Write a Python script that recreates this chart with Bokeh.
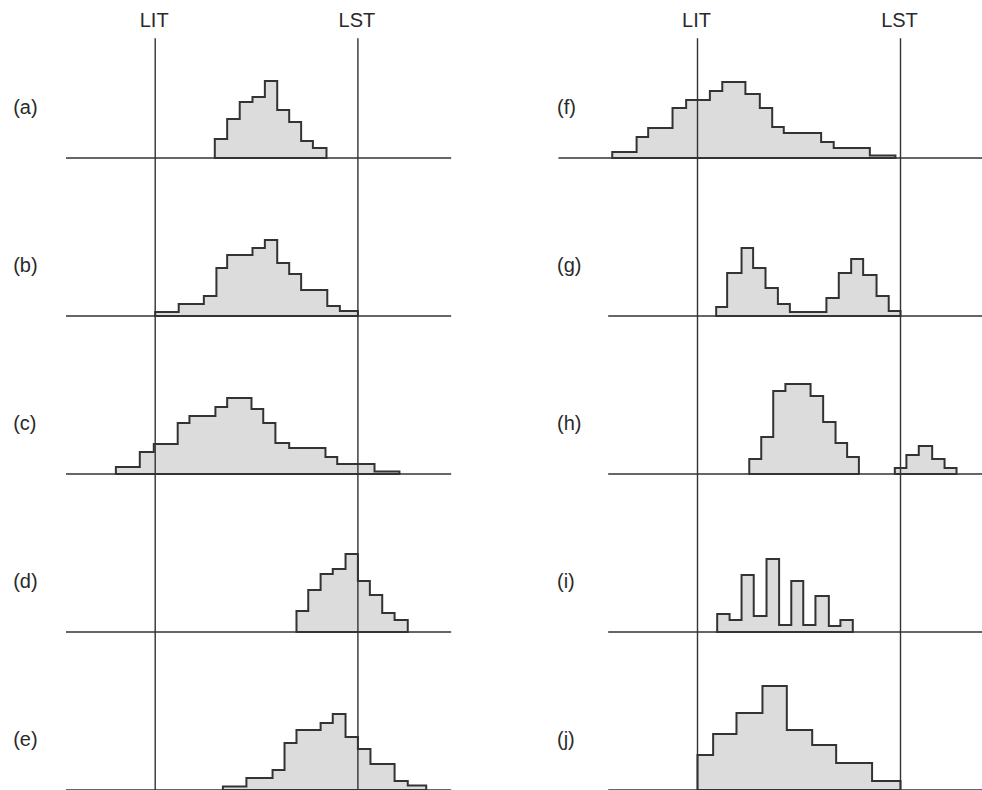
from bokeh.plotting import figure
from bokeh.models import Range1d
from bokeh.embed import file_html
from bokeh.resources import INLINE
from bokeh.core.properties import value

# ---------------- data (time axis: LIT = 0, LST = 100) ----------------
LIT, LST = 0, 100
marker_labels = ["LIT", "LST"]

edges_a = [29.4, 35.5, 41.7, 48.0, 54.1, 60.2, 66.1, 72.0, 77.8, 84.5]
heights_a = [19, 39, 56, 61, 77, 48, 36, 17, 10]

edges_b = [0, 11.6, 24.0, 30.2, 35.5, 48.0, 54.1, 60.2, 66.1, 72.0, 84.9, 91.1, 100]
heights_b = [4, 12, 20, 48, 61, 68, 76, 53, 42, 26, 10, 5]

edges_c = [-19.4, -7.6, -0.7, 11.1, 16.9, 29.7, 35.5, 47.5, 53.3, 59.3, 66.1, 84.0, 89.8, 108.2, 120.5]
heights_c = [7, 22, 30, 51, 58, 67, 76, 65, 51, 31, 26, 17, 10, 2.5]

edges_d = [69.7, 75.5, 81.6, 87.6, 93.9, 100, 105.9, 112.0, 118.1, 124.6]
heights_d = [21, 42, 58, 63, 78, 51, 37, 19, 12]

edges_e = [33.4, 45.0, 57.9, 63.8, 69.7, 81.6, 87.6, 93.9, 100, 106.2, 118.1, 124.6, 133.7]
heights_e = [3.5, 12, 20, 47, 60, 67, 76, 53, 41, 26, 9, 4.5]

edges_f = [-42.0, -30.0, -24.3, -12.3, -5.6, 6.1, 12.2, 23.6, 30.7, 36.8, 42.5, 60.9, 67.1, 84.9, 97.5]
heights_f = [6, 21, 30, 50, 58, 67, 76, 64, 50, 31, 25, 16, 10, 2.5]

edges_g = [9.2, 14.6, 21.7, 27.4, 33.5, 39.6, 45.5, 63.5, 69.6, 75.7, 81.6, 88.2, 94.2, 100]
heights_g = [9, 43, 68, 48, 28, 12, 4, 18, 43, 57, 41, 20, 5]

edges_h1 = [25.5, 31.4, 37.3, 43.3, 55.7, 61.9, 68.0, 73.7, 79.5]
heights_h1 = [15, 37, 83, 90, 78, 52, 31, 17]
edges_h2 = [97.2, 102.9, 109.0, 115.6, 121.7, 127.6]
heights_h2 = [6, 19, 28, 15, 6]

edges_i = [9.7, 15.8, 21.7, 27.7, 34.0, 40.2, 46.2, 52.1, 58.1, 64.7, 70.4, 76.5]
heights_i = [18, 12, 57, 16, 73, 7, 51, 7, 36, 6, 12]

edges_j = [0, 7.7, 19.2, 32.0, 44.0, 56.5, 68.3, 86.0, 100]
heights_j = [35, 56, 77, 104, 60, 45, 27, 9]

panel_labels = ["(a)", "(b)", "(c)", "(d)", "(e)", "(f)", "(g)", "(h)", "(i)", "(j)"]

# (column, row, label, list of histograms)
panels = [
    ("L", 0, panel_labels[0], [(edges_a, heights_a)]),
    ("L", 1, panel_labels[1], [(edges_b, heights_b)]),
    ("L", 2, panel_labels[2], [(edges_c, heights_c)]),
    ("L", 3, panel_labels[3], [(edges_d, heights_d)]),
    ("L", 4, panel_labels[4], [(edges_e, heights_e)]),
    ("R", 0, panel_labels[5], [(edges_f, heights_f)]),
    ("R", 1, panel_labels[6], [(edges_g, heights_g)]),
    ("R", 2, panel_labels[7], [(edges_h1, heights_h1), (edges_h2, heights_h2)]),
    ("R", 3, panel_labels[8], [(edges_i, heights_i)]),
    ("R", 4, panel_labels[9], [(edges_j, heights_j)]),
]

# ---------------- layout ----------------
W, H = 982, 790
ROW_STEP = 158.0
FIRST_BASE = 157.5

col_pix = {"L": 154.7, "R": 697.0}      # where LIT sits (px)
unit_px = {"L": 2.027, "R": 2.03}        # px per time unit

p = figure(width=W, height=H, x_range=Range1d(0, W), y_range=Range1d(0, H),
           output_backend="svg", toolbar_location=None, min_border=0,
           x_axis_type=None, y_axis_type=None)
p.grid.visible = False
p.outline_line_color = None
p.background_fill_color = "white"
p.border_fill_color = "white"

for c in ("L", "R"):
    start = (0 - col_pix[c]) / unit_px[c]
    end = (W - col_pix[c]) / unit_px[c]
    p.extra_x_ranges[c] = Range1d(start, end)
for r in range(5):
    base = FIRST_BASE + r * ROW_STEP
    p.extra_y_ranges["r%d" % r] = Range1d(base - H, base)

INK = "#333333"
TXT = "#2a2a2a"
FILL = "#dcdcdd"
FONT = value("Liberation Sans")

# baselines
for c, r, lab, hists in panels:
    x0 = -68.5 if (c == "R" and r == 0) else -44.0
    p.segment(x0=[x0], y0=[0], x1=[146], y1=[0], line_color=INK, line_width=1.4,
              x_range_name=c, y_range_name="r%d" % r)

# histograms
for c, r, lab, hists in panels:
    for edges, heights in hists:
        xs = [edges[0]]
        ys = [0]
        for i, h in enumerate(heights):
            xs += [edges[i], edges[i + 1]]
            ys += [h, h]
        xs.append(edges[-1])
        ys.append(0)
        p.patch(xs, ys, fill_color=FILL, line_color=INK, line_width=2,
                line_join="miter", x_range_name=c, y_range_name="r%d" % r)

# LIT / LST vertical lines and labels
top_h = FIRST_BASE - 37.7
for c in ("L", "R"):
    p.segment(x0=[LIT, LST], y0=[top_h, top_h], x1=[LIT, LST], y1=[-700, -700],
              line_color=INK, line_width=1.4, x_range_name=c, y_range_name="r0")
    p.text(x=[LIT - 0.5, LST - 0.5], y=[FIRST_BASE - 19.5] * 2, text=marker_labels,
           text_font=FONT, text_font_size="20px", text_color=TXT,
           text_align="center", text_baseline="alphabetic",
           x_range_name=c, y_range_name="r0")

# panel labels
lab_x = {"L": (12.7 - col_pix["L"]) / unit_px["L"], "R": (556.5 - col_pix["R"]) / unit_px["R"]}
for c, r, lab, hists in panels:
    p.text(x=[lab_x[c]], y=[51.5], text=[lab], text_font=FONT, text_font_size="20px",
           text_color=TXT, text_align="left", text_baseline="alphabetic",
           x_range_name=c, y_range_name="r%d" % r)

open("out.html", "w").write(file_html(p, INLINE))
